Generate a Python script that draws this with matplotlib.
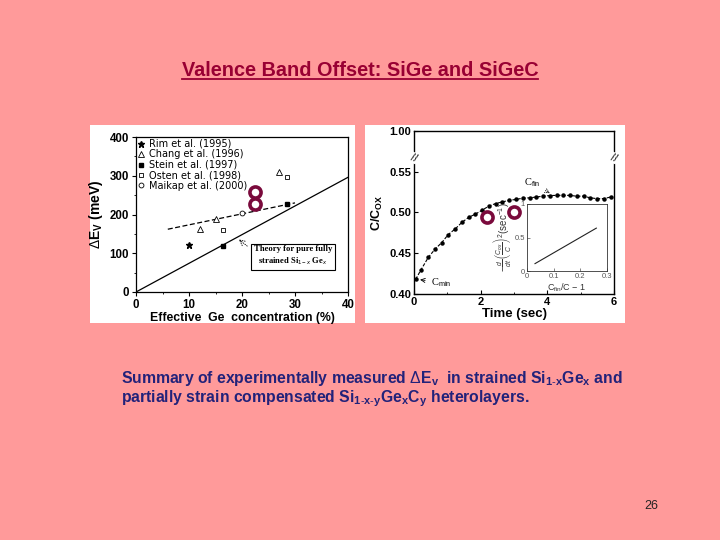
import matplotlib
matplotlib.use("Agg")
import matplotlib.pyplot as plt
from matplotlib.patches import Rectangle
from matplotlib.lines import Line2D

plt.rcParams['font.family'] = ['Liberation Sans', 'DejaVu Sans']
plt.rcParams['mathtext.fontset'] = 'custom'
plt.rcParams['mathtext.rm'] = 'Liberation Sans'
plt.rcParams['mathtext.it'] = 'Liberation Sans:italic'
plt.rcParams['mathtext.bf'] = 'Liberation Sans:bold'

# --- left chart: valence band offset vs Ge content ---
rim_x = [10]
rim_y = [122]
chang_x = [12, 15, 27]
chang_y = [163, 189, 310]
stein_x = [16.5, 28.5]
stein_y = [120, 228]
osten_x = [16.5, 28.5]
osten_y = [159, 298]
maikap_x = [20]
maikap_y = [205]
fit_x = [6, 30]
fit_y = [162, 230]
theory_x = [0, 40]
theory_y = [0, 296]
left_ring_x = [22.5, 22.5]
left_ring_y = [258, 227]

# --- right chart: C/Cox transient ---
time_s = [0.05, 0.2, 0.43, 0.63, 0.83, 1.03, 1.24, 1.44, 1.64, 1.84, 2.05, 2.25,
          2.45, 2.65, 2.86, 3.06, 3.26, 3.47, 3.67, 3.87, 4.07, 4.28, 4.48, 4.68,
          4.88, 5.09, 5.29, 5.49, 5.69, 5.9]
c_ratio = [0.418, 0.429, 0.445, 0.455, 0.463, 0.473, 0.480, 0.488, 0.494, 0.498,
           0.503, 0.508, 0.511, 0.513, 0.515, 0.516, 0.5176, 0.518, 0.519, 0.520,
           0.5208, 0.521, 0.521, 0.521, 0.520, 0.520, 0.518, 0.517, 0.517, 0.519]
inset_x = [0.03, 0.26]
inset_y = [0.11, 0.64]
right_ring_x = [2.2, 3.0]
right_ring_y = [0.494, 0.500]
# the y axis is broken: 0.60 on the drawn scale stands for 1.00
c_ticks = [0.40, 0.45, 0.50, 0.55, 0.60]
c_tick_labels = ['0.40', '0.45', '0.50', '0.55', '1.00']

bg = '#ff9a9a'
ring_col = '#7a0a3c'

fig = plt.figure(figsize=(7.2, 5.4), dpi=100)
fig.patch.set_facecolor(bg)

W, H = 720.0, 540.0


def fbox(x0, y0, x1, y1):
    # pixel box (top-left origin) -> figure fraction rect
    return [x0 / W, 1 - y1 / H, (x1 - x0) / W, (y1 - y0) / H]


# white picture panels
for x0, x1 in [(90, 355), (365, 625)]:
    r = fbox(x0, 125, x1, 323)
    fig.patches.append(Rectangle((r[0], r[1]), r[2], r[3], transform=fig.transFigure,
                                 facecolor='white', edgecolor='none', zorder=-5))

# ---------- left axes ----------
ax1 = fig.add_axes(fbox(136, 137, 348, 292))
ax1.plot(theory_x, theory_y, color='black', lw=0.9)
ax1.plot(fit_x, fit_y, color='black', lw=0.9, ls=(0, (4, 2)))
ax1.plot(rim_x, rim_y, '*', color='black', ms=5, label='Rim et al. (1995)')
ax1.plot(chang_x, chang_y, '^', mfc='white', mec='black', mew=0.6, ms=4, label='Chang et al. (1996)')
ax1.plot(stein_x, stein_y, 's', color='black', ms=3.5, label='Stein et al. (1997)')
ax1.plot(osten_x, osten_y, 's', mfc='white', mec='black', mew=0.6, ms=3.5, label='Osten et al. (1998)')
ax1.plot(maikap_x, maikap_y, 'o', mfc='white', mec='black', mew=0.6, ms=3.5, label='Maikap et al. (2000)')
ax1.plot(left_ring_x, left_ring_y, 'o', mfc='white', mec=ring_col, mew=2.6, ms=8, zorder=5)

ax1.set_xlim(0, 40)
ax1.set_ylim(0, 400)
ax1.set_xticks([0, 10, 20, 30, 40])
ax1.set_yticks([0, 100, 200, 300, 400])
ax1.set_xticks([5, 15, 25, 35], minor=True)
ax1.set_yticks([50, 150, 250, 350], minor=True)
ax1.tick_params(which='major', direction='out', length=3, width=0.8, labelsize=8.3, pad=2)
ax1.tick_params(which='minor', direction='out', length=1.5, width=0.6)
for s in ax1.spines.values():
    s.set_linewidth(0.9)
ax1.set_xlabel('Effective  Ge  concentration (%)', fontsize=8.8, fontweight='bold', labelpad=1)
ax1.set_ylabel(r'$\Delta$E$_{\mathbf{V}}$ (meV)', fontsize=10, fontweight='bold', labelpad=3)
leg = ax1.legend(loc='upper left', frameon=False, prop={'family': 'DejaVu Sans', 'size': 7},
                 handlelength=0.7, handletextpad=0.4,
                 labelspacing=0.05, borderaxespad=0.1, borderpad=0.1)
ax1.text(29.6, 92, 'Theory for pure fully\nstrained Si$_{1-x}$ Ge$_x$', fontsize=6.2,
         family='Liberation Serif', fontweight='bold', ha='center', va='center',
         linespacing=1.3,
         bbox=dict(boxstyle='square,pad=0.35', fc='white', ec='black', lw=0.8))
ax1.annotate('', xy=(19, 140), xytext=(21.4, 114),
             arrowprops=dict(arrowstyle='->', lw=0.6, ls=':', color='black'))

# ---------- right axes ----------
ax2 = fig.add_axes(fbox(414, 131, 614, 294))
ax2.plot(time_s, c_ratio, color='black', lw=0.8, ls=(0, (3, 1.5)),
         marker='o', ms=2.2, mfc='black', mec='black')
ax2.plot(right_ring_x, right_ring_y, 'o', mfc='white', mec=ring_col, mew=2.6, ms=8, zorder=5)
ax2.set_xlim(0, 6)
ax2.set_ylim(0.40, 0.60)
ax2.set_xticks([0, 2, 4, 6])
ax2.set_xticks([1, 3, 5], minor=True)
ax2.set_yticks(c_ticks)
ax2.set_yticklabels(c_tick_labels)
ax2.tick_params(which='major', direction='in', length=3, width=0.8, labelsize=8, pad=2)
ax2.tick_params(which='minor', direction='in', length=1.5, width=0.6)
for lab in ax2.get_xticklabels() + ax2.get_yticklabels():
    lab.set_fontweight('bold')
for lab in ax1.get_xticklabels() + ax1.get_yticklabels():
    lab.set_fontweight('bold')
for s in ax2.spines.values():
    s.set_linewidth(1.0)
ax2.set_xlabel('Time (sec)', fontsize=9.5, fontweight='bold', labelpad=1)
ax2.set_ylabel(r'C/C$_{\mathbf{OX}}$', fontsize=9, fontweight='bold', labelpad=3)
# axis break marks
for xb in [0.0, 1.0]:
    ax2.text(xb, 0.567, '//', transform=ax2.get_yaxis_transform(), fontsize=8,
             ha='center', va='center', rotation=-20, color='black',
             bbox=dict(boxstyle='square,pad=0.05', fc='white', ec='none'))
ax2.annotate(r'C$_{\mathrm{fin}}$', xy=(4.15, 0.522), xytext=(3.3, 0.533), fontsize=7.5,
             family='Liberation Serif',
             arrowprops=dict(arrowstyle='->', lw=0.6, ls=':', color='black'))
ax2.annotate(r'C$_{\mathrm{min}}$', xy=(0.1, 0.418), xytext=(0.5, 0.414), fontsize=7.5,
             family='Liberation Serif', va='center',
             arrowprops=dict(arrowstyle='->', lw=0.6, color='black'))

# inset
ax3 = fig.add_axes(fbox(527, 204, 607, 271))
ax3.plot(inset_x, inset_y, color='#222222', lw=0.8)
ax3.set_xlim(0, 0.3)
ax3.set_ylim(0, 1)
ax3.set_xticks([0, 0.1, 0.2, 0.3])
ax3.set_xticklabels(['0', '0.1', '0.2', '0.3'])
ax3.set_yticks([0, 0.5, 1])
ax3.set_yticklabels(['0', '0.5', '1'])
ax3.tick_params(direction='in', length=2, width=0.5, labelsize=5.5, pad=1.5, colors='#555555')
for s in ax3.spines.values():
    s.set_linewidth(0.6)
    s.set_color('#333333')
ax3.set_xlabel(r'C$_{\mathrm{fin}}$/C $-$ 1', fontsize=6.5, color='#333333', labelpad=1)
ax3.set_ylabel(r'$-\frac{d}{dt}\left(\frac{C_{ox}}{C}\right)^2$(sec$^{-1}$)', fontsize=7,
               color='#333333', labelpad=1)

# ---------- slide text ----------
title = fig.text(0.5, 1 - 70 / H, 'Valence Band Offset: SiGe and SiGeC', ha='center', va='center',
                 fontsize=14.3, fontweight='bold', color='#990033')
fig.text(121 / W, 1 - 379 / H,
         r'Summary of experimentally measured $\Delta$E$_{\mathbf{v}}$  in strained '
         r'Si$_{\mathbf{1\text{-}x}}$Ge$_{\mathbf{x}}$ and',
         ha='left', va='center', fontsize=11.3, fontweight='bold', color='#22227a')
fig.text(121 / W, 1 - 399 / H,
         r'partially strain compensated Si$_{\mathbf{1\text{-}x\text{-}y}}$Ge$_{\mathbf{x}}$C$_{\mathbf{y}}$ heterolayers.',
         ha='left', va='center', fontsize=11.3, fontweight='bold', color='#22227a')
fig.text(651 / W, 1 - 506 / H, '26', ha='center', va='center', fontsize=9, color='#222222')

# underline the title
fig.canvas.draw()
bb = title.get_window_extent().transformed(fig.transFigure.inverted())
fig.lines.append(Line2D([bb.x0, bb.x1], [bb.y0 + 0.001, bb.y0 + 0.001], transform=fig.transFigure,
                        color='#990033', lw=1.3))

fig.savefig('out.png', dpi=100, facecolor=bg)
